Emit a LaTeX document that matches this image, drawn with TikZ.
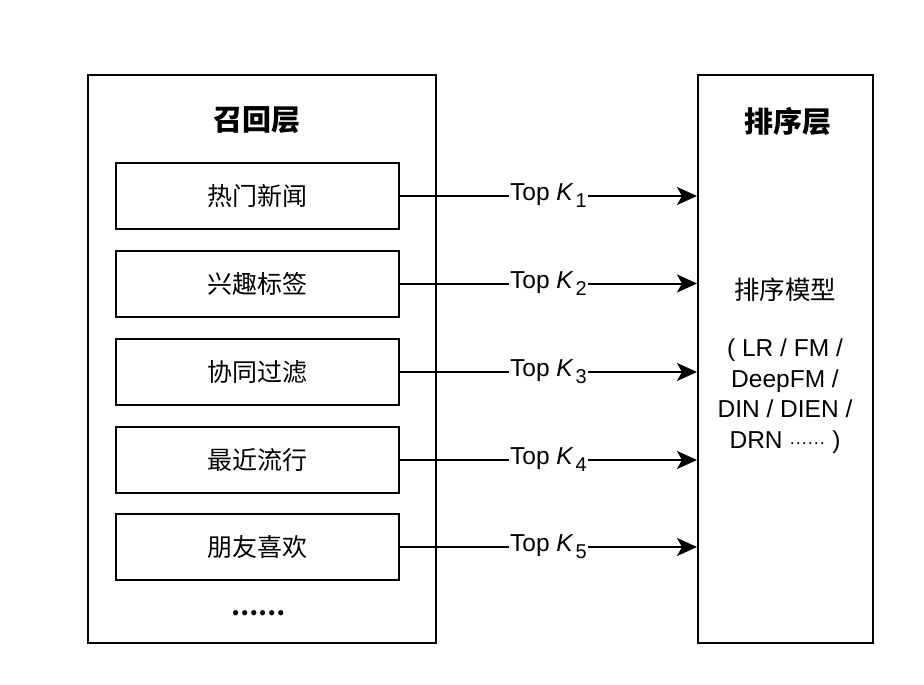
\documentclass[tikz,border=0pt]{standalone}
\usepackage{fontspec}
\setmainfont{Liberation Sans}
\newfontfamily\cjk{Noto Sans CJK SC}
\usetikzlibrary{arrows.meta}
\tikzset{
  panel/.style={draw, line width=2pt, minimum width=#1, inner sep=0pt, minimum height=568pt},
  src/.style={draw, line width=2pt, minimum width=283pt, minimum height=66pt, inner sep=0pt, font=\cjk\fontsize{25}{30}\selectfont},
  ttl/.style={font=\cjk\bfseries\fontsize{29}{34}\selectfont},
  arr/.style={line width=2pt, -{Stealth[length=20pt, width=18pt, inset=5pt]}},
  lbl/.style={fill=white, inner sep=1pt, font=\fontsize{24.5}{28}\selectfont}
}
\newcommand{\topk}[1]{Top \textit{K}\kern2pt\raisebox{-7pt}{\fontsize{20}{20}\selectfont #1}}
\begin{document}
\begin{tikzpicture}[x=1pt,y=-1pt]
\useasboundingbox[fill=white] (0,0) rectangle (924,685);
\node[panel=348pt] (L) at (262,359) {};
\node[panel=175pt] (R) at (785.5,359) {};
\node[ttl] (Lt) at (257,120) {召回层};
\node[ttl] (Rt) at (788,122) {排序层};
\node[src] (b1) at (257.5,196) {热门新闻};
\node[src] (b2) at (257.5,283.5) {兴趣标签};
\node[src] (b3) at (257.5,372) {协同过滤};
\node[src] (b4) at (257.5,460) {最近流行};
\node[src] (b5) at (257.5,547) {朋友喜欢};
\node[font=\cjk\bfseries\fontsize{24}{30}\selectfont] (dots) at (258,613) {……};
\node[font=\cjk\fontsize{25.5}{30}\selectfont] (model) at (785,290) {排序模型};
\node[align=center, font=\fontsize{24.5}{30.5}\selectfont] (list) at (785,396)
  {( LR / FM /\\DeepFM /\\DIN / DIEN /\\DRN {\fontsize{18}{20}\selectfont ······} )};
\draw[arr] (b1.east) -- (b1.east -| R.west) node[lbl, midway] {\topk{1}};
\draw[arr] (b2.east) -- (b2.east -| R.west) node[lbl, midway] {\topk{2}};
\draw[arr] (b3.east) -- (b3.east -| R.west) node[lbl, midway] {\topk{3}};
\draw[arr] (b4.east) -- (b4.east -| R.west) node[lbl, midway] {\topk{4}};
\draw[arr] (b5.east) -- (b5.east -| R.west) node[lbl, midway] {\topk{5}};
\end{tikzpicture}
\end{document}
